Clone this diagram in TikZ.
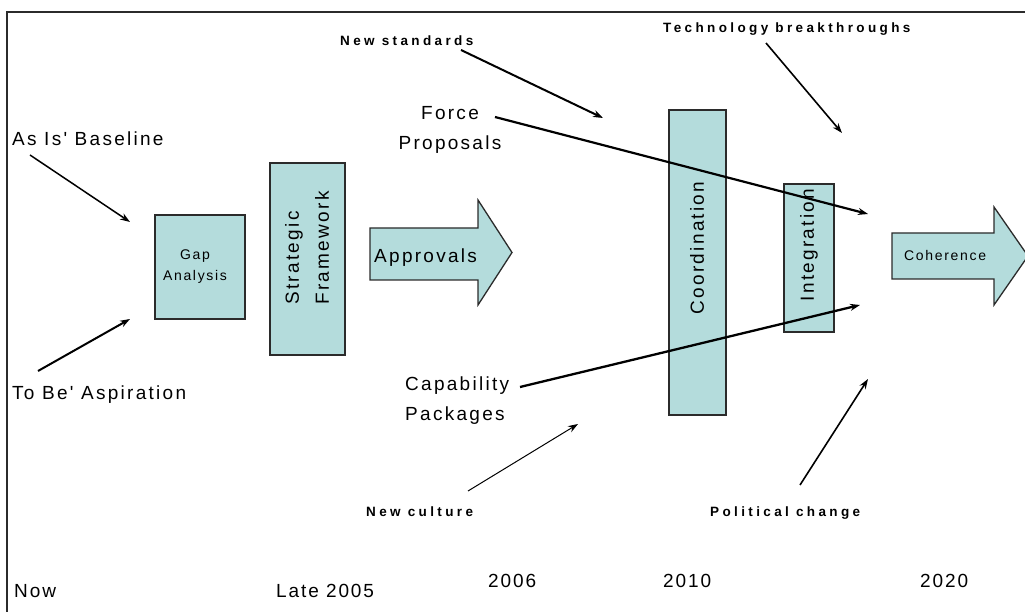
\documentclass[tikz,border=0pt]{standalone}
\usepackage{fontspec}
\setmainfont{Liberation Sans}
\newfontfamily\widefont[LetterSpace=12]{Liberation Sans}
\newfontfamily\notefont[LetterSpace=25]{Liberation Sans}
\newfontfamily\boxfont[LetterSpace=12]{Liberation Sans}
\newfontfamily\yearfont[LetterSpace=10]{Liberation Sans}
\usetikzlibrary{arrows.meta}
\definecolor{panel}{HTML}{B4DCDC}
\definecolor{edge}{HTML}{2B2B2B}

\tikzset{
  box/.style={draw=edge, fill=panel, line width=1.3pt, inner sep=0pt},
  bigarrow/.style={draw=edge, fill=panel, line width=1.3pt},
  big/.style={font=\widefont\fontsize{19}{30}\selectfont, inner sep=0pt},
  note/.style={font=\notefont\bfseries\fontsize{13.5}{16}\selectfont, inner sep=0pt},
  boxtext/.style={font=\boxfont\fontsize{14}{21}\selectfont, inner sep=0pt},
  year/.style={font=\yearfont\fontsize{19}{22}\selectfont, inner sep=0pt},
  pointer/.style={-{Stealth[length=10pt,width=7pt]}, line width=1.7pt},
}

\begin{document}
\begin{tikzpicture}[x=1pt, y=-1pt]
  \useasboundingbox (0,0) rectangle (1025,612);
  \draw[edge, line width=1.5pt] (7,612) -- (7,12) -- (1025,12);

  \node[box, minimum width=90pt, minimum height=104pt] (gap) at (200,267) {};
  \node[box, minimum width=75pt, minimum height=192pt] (frame) at (307.5,259) {};
  \node[box, minimum width=57pt, minimum height=305pt] (coord) at (697.5,262.5) {};
  \node[box, minimum width=50pt, minimum height=148pt] (integ) at (809,258) {};

  \draw[bigarrow] (370,228) -- (478,228) -- (478,200) -- (512,252.5) -- (478,305) -- (478,280) -- (370,280) -- cycle;
  \draw[bigarrow] (892,233) -- (994,233) -- (994,207) -- (1028,256) -- (994,305) -- (994,279) -- (892,279) -- cycle;

  \node[boxtext, align=center] (gaptext) at (195,267) {Gap\\Analysis};
  \node[big, rotate=90, align=left] (frametext) at (307,248) {Strategic\\Framework};
  \node[big, rotate=90] (coordtext) at (697,248) {Coordination};
  \node[big, rotate=90] (integtext) at (809,245) {Integration};
  \node[big, anchor=base west] (approvals) at (374,263) {Approvals};
  \node[boxtext, anchor=base west] (coherence) at (904,261) {Coherence};

  \node[big, anchor=base west] (asis) at (12,146) {As Is' Baseline};
  \node[big, anchor=base west] (tobe) at (12,399) {To Be' Aspiration};
  \node[big, align=center, anchor=north] (force) at (450,106) {Force\\Proposals};
  \node[big, align=left, anchor=north west] (capab) at (405,377) {Capability\\Packages};
  \node[note, anchor=base west] (newstd) at (340,46) {New standards};
  \node[note, anchor=base west] (tech) at (663,33) {Technology breakthroughs};
  \node[note, anchor=base west] (culture) at (366,516) {New culture};
  \node[note, anchor=base west] (politics) at (710,516) {Political change};

  \node[year, anchor=base west] (now) at (14,597) {Now};
  \node[year, anchor=base west] (late) at (276,597) {Late 2005};
  \node[year, anchor=base west] (y2006) at (488,587) {2006};
  \node[year, anchor=base west] (y2010) at (663,587) {2010};
  \node[year, anchor=base west] (y2020) at (920,587) {2020};

  \coordinate (gap-top) at (130,222);
  \coordinate (gap-bot) at (130,319);
  \coordinate (std-tip) at (603,118);
  \coordinate (tech-tip) at (842,133);
  \coordinate (join-top) at (868,214);
  \coordinate (join-bot) at (860,305);
  \coordinate (culture-tip) at (578,424);
  \coordinate (politics-tip) at (868,379);

  \draw[pointer, line width=1.5pt] ([xshift=18pt,yshift=-9pt]asis.base west) -- (gap-top);
  \draw[pointer, line width=2pt] ([xshift=26pt,yshift=28pt]tobe.base west) -- (gap-bot);
  \draw[pointer, line width=2pt] ([xshift=121pt,yshift=-4pt]newstd.base west) -- (std-tip);
  \draw[pointer, line width=2.2pt] ([xshift=45pt,yshift=-11pt]force.north) -- (join-top);
  \draw[pointer, line width=1.6pt] ([xshift=103pt,yshift=-10pt]tech.base west) -- (tech-tip);
  \draw[pointer, line width=2.3pt] ([xshift=115pt,yshift=-10pt]capab.north west) -- (join-bot);
  \draw[pointer, line width=1pt] ([xshift=102pt,yshift=25pt]culture.base west) -- (culture-tip);
  \draw[pointer, line width=1.6pt] ([xshift=90pt,yshift=31pt]politics.base west) -- (politics-tip);
\end{tikzpicture}
\end{document}
